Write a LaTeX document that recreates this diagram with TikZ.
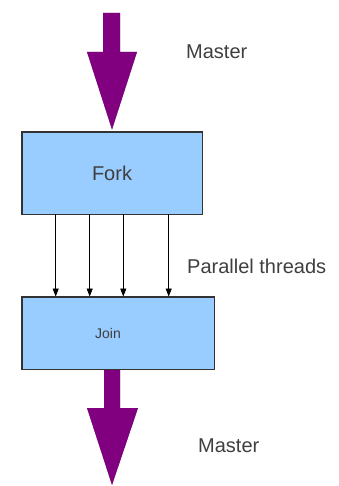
\documentclass[tikz,border=0pt]{standalone}
\usepackage{fontspec}
\setmainfont{Liberation Sans}
\usetikzlibrary{arrows.meta,calc}
\definecolor{boxblue}{HTML}{99CCFF}
\definecolor{boxline}{HTML}{333333}
\definecolor{masterpurple}{HTML}{800080}
\definecolor{labelgray}{HTML}{3F3F3F}
\definecolor{shadowgray}{HTML}{8A8A8A}
\tikzset{
  stagebox/.style={draw=boxline, line width=0.9pt, fill=boxblue, rectangle, inner sep=0pt},
  sidelabel/.style={text=labelgray, anchor=base west, inner sep=0pt, font=\fontsize{20}{24}\selectfont},
  thread/.style={draw=black, line width=0.8pt, -{Triangle[length=8pt,width=6pt]}},
  bigarrow/.style={fill=masterpurple, draw=none},
  bigshadow/.style={fill=shadowgray, draw=none},
}
\begin{document}
\begin{tikzpicture}[x=1pt,y=-1pt]
  \useasboundingbox (0,0) rectangle (339,486);

  % processing stages
  \node[stagebox, minimum width=180pt, minimum height=82pt,
        font=\fontsize{20}{24}\selectfont, text=labelgray] (fork) at (112,173) {Fork};
  \node[stagebox, minimum width=192pt, minimum height=72pt,
        label={[xshift=-10pt, text=labelgray, font=\fontsize{14}{17}\selectfont]center:Join}] (join) at (118,333) {};

  % master thread: block arrows into the fork and out of the join
  \coordinate (mtop) at (111.5,13);
  \coordinate (mtophead) at (111.5,52);
  \coordinate (mtoptip) at ($(fork.north)+(0,-2)$);
  \coordinate (mbot) at (join.south -| 112,0);
  \coordinate (mbothead) at (112,408);
  \coordinate (mbottip) at (112,485);

  \foreach \dx/\sty in {3/bigshadow, 0/bigarrow}{
    \fill[\sty, shift={(\dx,\dx)}]
      ($(mtop)+(-8.5,0)$) -- ($(mtop)+(8.5,0)$) -- ($(mtophead)+(8.5,0)$) --
      ($(mtophead)+(25.5,0)$) -- (mtoptip) -- ($(mtophead)+(-24.5,0)$) --
      ($(mtophead)+(-8.5,0)$) -- cycle;
    \fill[\sty, shift={(\dx,\dx)}]
      ($(mbot)+(-8,0)$) -- ($(mbot)+(8,0)$) -- ($(mbothead)+(8,0)$) --
      ($(mbothead)+(26,0)$) -- (mbottip) -- ($(mbothead)+(-25,0)$) --
      ($(mbothead)+(-8,0)$) -- cycle;
  }
  % box outlines drawn again over the arrow ends
  \draw[boxline, line width=0.9pt] (fork.south west) rectangle (fork.north east);
  \draw[boxline, line width=0.9pt] (join.south west) rectangle (join.north east);

  % parallel threads
  \foreach \x in {55.7,89.7,123.3,168.7}{
    \draw[thread] (fork.south -| \x,0) -- (join.north -| \x,0);
  }

  % labels
  \node[sidelabel] (lmaster1) at (186,59) {Master};
  \node[sidelabel] (lpar) at (187,273) {Parallel threads};
  \node[sidelabel] (lmaster2) at (198,452) {Master};
\end{tikzpicture}
\end{document}
